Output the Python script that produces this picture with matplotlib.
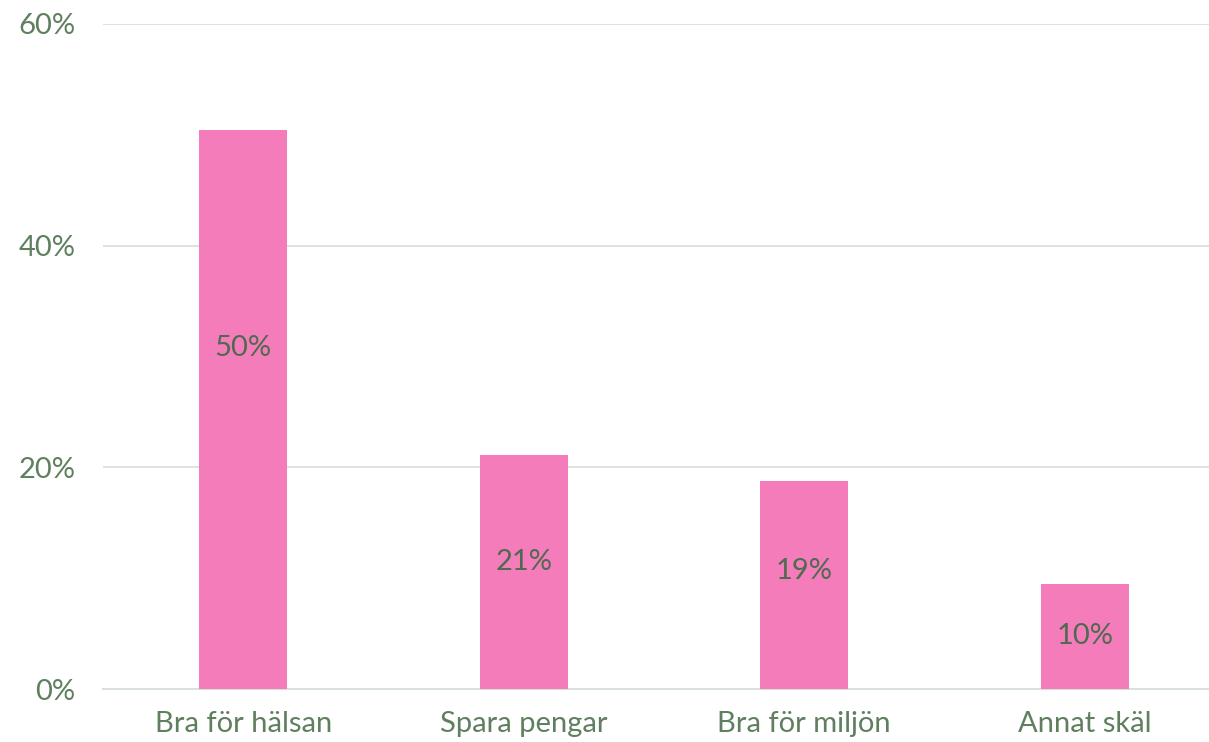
import matplotlib.pyplot as plt

categories = ["Bra för hälsan", "Spara pengar", "Bra för miljön", "Annat skäl"]
values = [50.4, 21.1, 18.8, 9.5]
labels = ["50%", "21%", "19%", "10%"]
yticks = [0, 20, 40, 60]
ytick_labels = ["0%", "20%", "40%", "60%"]

# where the value label sits inside each bar (fraction of bar height)
label_frac = [0.61, 0.545, 0.565, 0.5]

plt.rcParams['font.family'] = ['Lato', 'DejaVu Sans']

text_color = "#5f7f5f"
label_color = "#4f6a4f"
bar_color = "#f57cbb"
grid_color = "#d9e2d9"

fig = plt.figure(figsize=(12.09, 7.42), dpi=100)
ax = fig.add_axes([103 / 1209, 53 / 742, 1122 / 1209, 665 / 742])

x = list(range(len(categories)))
ax.bar(x, values, width=0.314, color=bar_color, zorder=3)

for xi, v, lab, f in zip(x, values, labels, label_frac):
    ax.text(xi, v * f, lab, ha="center", va="center", fontsize=21,
            color=label_color, zorder=4)

ax.set_xlim(-0.5, 3.5)
ax.set_ylim(0, 60)
ax.set_yticks(yticks)
ax.set_yticklabels(ytick_labels)
ax.set_xticks(x)
ax.set_xticklabels(categories)
ax.tick_params(axis="both", length=0, labelsize=21, labelcolor=text_color)
ax.tick_params(axis="y", pad=20)
ax.tick_params(axis="x", pad=16)

ax.grid(axis="y", color=grid_color, linewidth=1.3, zorder=0)
for s in ["top", "right", "left"]:
    ax.spines[s].set_visible(False)
ax.spines["bottom"].set_color(grid_color)
ax.spines["bottom"].set_linewidth(1.5)

fig.savefig("out.png", dpi=100)
